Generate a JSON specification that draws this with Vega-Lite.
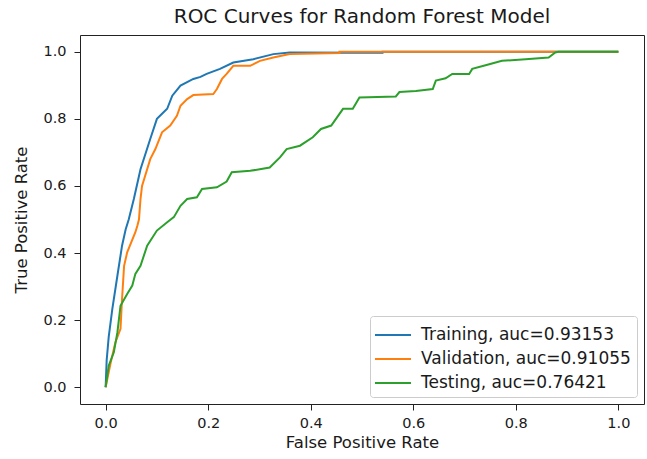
{
  "$schema": "https://vega.github.io/schema/vega-lite/v6.json",
  "width": 564,
  "height": 369,
  "autosize": {"type": "none"},
  "padding": {"left": 80, "top": 35, "right": 3, "bottom": 55},
  "background": "white",
  "title": {"text": "ROC Curves for Random Forest Model", "font": "DejaVu Sans", "fontSize": 20, "fontWeight": "normal", "color": "#1a1a1a", "offset": 8, "anchor": "middle"},
  "config": {
    "view": {"stroke": "#222222", "strokeWidth": 1},
    "axis": {"domain": false, "grid": false, "tickColor": "#222222", "tickSize": 6, "labelFont": "DejaVu Sans", "labelFontSize": 14.5, "labelColor": "#1a1a1a", "titleFont": "DejaVu Sans", "titleFontSize": 16.5, "titleFontWeight": "normal", "titleColor": "#1a1a1a", "labelPadding": 6}
  },
  "data": {"values": [
    {"s":"Training","i":0,"x":0,"y":0},
    {"s":"Training","i":1,"x":0.002,"y":0.08},
    {"s":"Training","i":2,"x":0.006,"y":0.15},
    {"s":"Training","i":3,"x":0.013,"y":0.233},
    {"s":"Training","i":4,"x":0.023,"y":0.333},
    {"s":"Training","i":5,"x":0.032,"y":0.422},
    {"s":"Training","i":6,"x":0.039,"y":0.47},
    {"s":"Training","i":7,"x":0.045,"y":0.5},
    {"s":"Training","i":8,"x":0.055,"y":0.561},
    {"s":"Training","i":9,"x":0.068,"y":0.65},
    {"s":"Training","i":10,"x":0.087,"y":0.74},
    {"s":"Training","i":11,"x":0.1,"y":0.8},
    {"s":"Training","i":12,"x":0.11,"y":0.815},
    {"s":"Training","i":13,"x":0.12,"y":0.83},
    {"s":"Training","i":14,"x":0.13,"y":0.869},
    {"s":"Training","i":15,"x":0.146,"y":0.899},
    {"s":"Training","i":16,"x":0.171,"y":0.919},
    {"s":"Training","i":17,"x":0.185,"y":0.925},
    {"s":"Training","i":18,"x":0.197,"y":0.934},
    {"s":"Training","i":19,"x":0.223,"y":0.949},
    {"s":"Training","i":20,"x":0.249,"y":0.968},
    {"s":"Training","i":21,"x":0.288,"y":0.978},
    {"s":"Training","i":22,"x":0.327,"y":0.993},
    {"s":"Training","i":23,"x":0.359,"y":0.998},
    {"s":"Training","i":24,"x":0.54,"y":0.997},
    {"s":"Training","i":25,"x":0.54,"y":1.0},
    {"s":"Training","i":26,"x":1.0,"y":1.0},
    {"s":"Validation","i":0,"x":0,"y":0},
    {"s":"Validation","i":1,"x":0.01,"y":0.074},
    {"s":"Validation","i":2,"x":0.019,"y":0.134},
    {"s":"Validation","i":3,"x":0.029,"y":0.174},
    {"s":"Validation","i":4,"x":0.032,"y":0.263},
    {"s":"Validation","i":5,"x":0.036,"y":0.362},
    {"s":"Validation","i":6,"x":0.042,"y":0.402},
    {"s":"Validation","i":7,"x":0.058,"y":0.462},
    {"s":"Validation","i":8,"x":0.062,"y":0.482},
    {"s":"Validation","i":9,"x":0.065,"y":0.5},
    {"s":"Validation","i":10,"x":0.068,"y":0.561},
    {"s":"Validation","i":11,"x":0.071,"y":0.6},
    {"s":"Validation","i":12,"x":0.087,"y":0.68},
    {"s":"Validation","i":13,"x":0.097,"y":0.71},
    {"s":"Validation","i":14,"x":0.11,"y":0.76},
    {"s":"Validation","i":15,"x":0.126,"y":0.78},
    {"s":"Validation","i":16,"x":0.139,"y":0.809},
    {"s":"Validation","i":17,"x":0.146,"y":0.839},
    {"s":"Validation","i":18,"x":0.159,"y":0.859},
    {"s":"Validation","i":19,"x":0.171,"y":0.871},
    {"s":"Validation","i":20,"x":0.21,"y":0.874},
    {"s":"Validation","i":21,"x":0.217,"y":0.889},
    {"s":"Validation","i":22,"x":0.227,"y":0.919},
    {"s":"Validation","i":23,"x":0.236,"y":0.934},
    {"s":"Validation","i":24,"x":0.249,"y":0.958},
    {"s":"Validation","i":25,"x":0.282,"y":0.958},
    {"s":"Validation","i":26,"x":0.301,"y":0.973},
    {"s":"Validation","i":27,"x":0.327,"y":0.983},
    {"s":"Validation","i":28,"x":0.359,"y":0.993},
    {"s":"Validation","i":29,"x":0.456,"y":0.996},
    {"s":"Validation","i":30,"x":0.456,"y":1.0},
    {"s":"Validation","i":31,"x":1.0,"y":1.0},
    {"s":"Testing","i":0,"x":0,"y":0},
    {"s":"Testing","i":1,"x":0.006,"y":0.064},
    {"s":"Testing","i":2,"x":0.016,"y":0.104},
    {"s":"Testing","i":3,"x":0.023,"y":0.164},
    {"s":"Testing","i":4,"x":0.029,"y":0.243},
    {"s":"Testing","i":5,"x":0.042,"y":0.278},
    {"s":"Testing","i":6,"x":0.052,"y":0.303},
    {"s":"Testing","i":7,"x":0.058,"y":0.338},
    {"s":"Testing","i":8,"x":0.068,"y":0.362},
    {"s":"Testing","i":9,"x":0.081,"y":0.422},
    {"s":"Testing","i":10,"x":0.1,"y":0.467},
    {"s":"Testing","i":11,"x":0.12,"y":0.492},
    {"s":"Testing","i":12,"x":0.133,"y":0.507},
    {"s":"Testing","i":13,"x":0.146,"y":0.541},
    {"s":"Testing","i":14,"x":0.159,"y":0.561},
    {"s":"Testing","i":15,"x":0.178,"y":0.566},
    {"s":"Testing","i":16,"x":0.188,"y":0.591},
    {"s":"Testing","i":17,"x":0.217,"y":0.596},
    {"s":"Testing","i":18,"x":0.236,"y":0.613},
    {"s":"Testing","i":19,"x":0.246,"y":0.641},
    {"s":"Testing","i":20,"x":0.282,"y":0.645},
    {"s":"Testing","i":21,"x":0.32,"y":0.655},
    {"s":"Testing","i":22,"x":0.34,"y":0.685},
    {"s":"Testing","i":23,"x":0.353,"y":0.71},
    {"s":"Testing","i":24,"x":0.379,"y":0.72},
    {"s":"Testing","i":25,"x":0.404,"y":0.745},
    {"s":"Testing","i":26,"x":0.42,"y":0.77},
    {"s":"Testing","i":27,"x":0.44,"y":0.78},
    {"s":"Testing","i":28,"x":0.463,"y":0.83},
    {"s":"Testing","i":29,"x":0.482,"y":0.83},
    {"s":"Testing","i":30,"x":0.495,"y":0.864},
    {"s":"Testing","i":31,"x":0.566,"y":0.867},
    {"s":"Testing","i":32,"x":0.573,"y":0.88},
    {"s":"Testing","i":33,"x":0.605,"y":0.883},
    {"s":"Testing","i":34,"x":0.638,"y":0.889},
    {"s":"Testing","i":35,"x":0.644,"y":0.914},
    {"s":"Testing","i":36,"x":0.663,"y":0.921},
    {"s":"Testing","i":37,"x":0.676,"y":0.934},
    {"s":"Testing","i":38,"x":0.709,"y":0.934},
    {"s":"Testing","i":39,"x":0.715,"y":0.949},
    {"s":"Testing","i":40,"x":0.741,"y":0.96},
    {"s":"Testing","i":41,"x":0.773,"y":0.973},
    {"s":"Testing","i":42,"x":0.819,"y":0.978},
    {"s":"Testing","i":43,"x":0.864,"y":0.983},
    {"s":"Testing","i":44,"x":0.877,"y":0.998},
    {"s":"Testing","i":45,"x":0.883,"y":1.0},
    {"s":"Testing","i":46,"x":1.0,"y":1.0}
  ]},
  "transform": [
    {"lookup": "s", "from": {"data": {"values": [
      {"s": "Training", "label": "Training, auc=0.93153"},
      {"s": "Validation", "label": "Validation, auc=0.91055"},
      {"s": "Testing", "label": "Testing, auc=0.76421"}
    ]}, "key": "s", "fields": ["label"]}}
  ],
  "mark": {"type": "line", "strokeWidth": 2, "clip": true},
  "encoding": {
    "x": {"field": "x", "type": "quantitative", "title": "False Positive Rate",
      "scale": {"domain": [-0.05, 1.05], "nice": false, "zero": false},
      "axis": {"values": [0, 0.2, 0.4, 0.6, 0.8, 1.0], "format": ".1f", "titlePadding": 5}},
    "y": {"field": "y", "type": "quantitative", "title": "True Positive Rate",
      "scale": {"domain": [-0.05, 1.05], "nice": false, "zero": false},
      "axis": {"values": [0, 0.2, 0.4, 0.6, 0.8, 1.0], "format": ".1f", "labelPadding": 8, "titlePadding": 13}},
    "color": {"field": "label", "type": "nominal",
      "scale": {"domain": ["Training, auc=0.93153", "Validation, auc=0.91055", "Testing, auc=0.76421"], "range": ["#1f77b4", "#ff7f0e", "#2ca02c"]},
      "legend": {"title": null, "orient": "bottom-right", "offset": 7, "strokeColor": "#cccccc", "fillColor": "white", "cornerRadius": 3, "padding": 6, "symbolType": "M-1.5,0H1.5", "symbolSize": 576, "symbolStrokeWidth": 2, "symbolOffset": 4, "labelFont": "DejaVu Sans", "labelFontSize": 17, "labelColor": "#1a1a1a", "labelLimit": 0, "rowPadding": 3, "labelOffset": 15}},
    "order": {"field": "i", "type": "quantitative"}
  }
}
